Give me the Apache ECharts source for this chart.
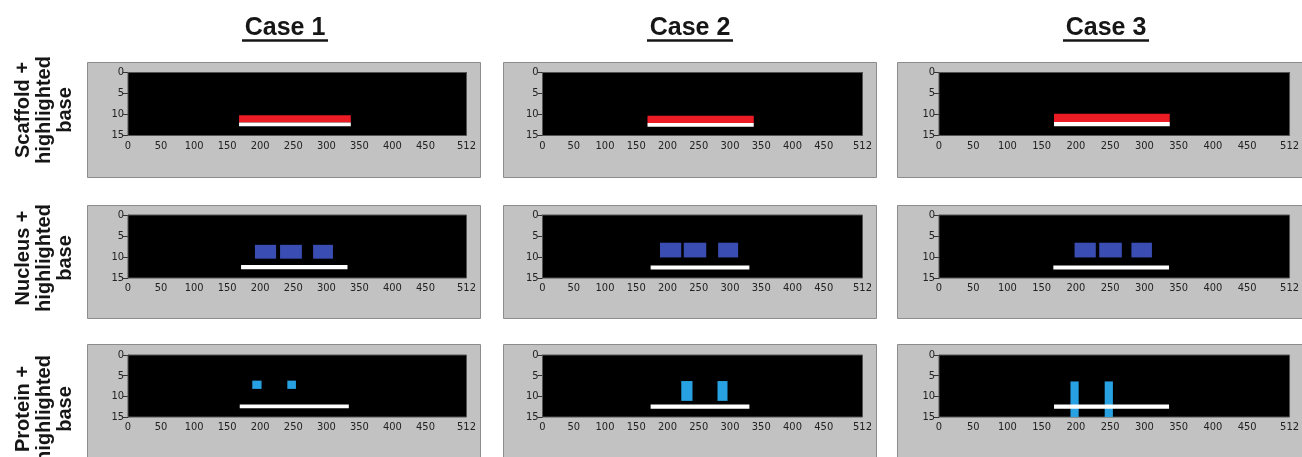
<!DOCTYPE html>
<html>
<head>
<meta charset="utf-8">
<script src="https://cdn.jsdelivr.net/npm/echarts@6/dist/echarts.min.js"></script>
<style>
html,body{margin:0;padding:0;background:#fff;}
#chart{width:1302px;height:457px;}
</style>
</head>
<body>
<div id="chart"></div>
<script>
// ---- data (axis units) ----
const caseNames = ['Case 1', 'Case 2', 'Case 3'];
const rowNames = ['Scaffold +\nhighlighted\nbase', 'Nucleus +\nhighlighted\nbase', 'Protein +\nhighlighted\nbase'];
const xTicks = [0, 50, 100, 150, 200, 250, 300, 350, 400, 450, 512];
const yMax = 15;
const yStep = 5;
const xMax = 512;

// rectangles: [xStart, xEnd, yTop, yBottom], one entry per case
const scaffoldRed = [[168, 337, 10.2, 11.9], [168, 338, 10.3, 12.0], [168, 337, 9.8, 11.8]];
const scaffoldBase = [[168, 337, 11.9, 12.8], [168, 338, 12.0, 12.9], [168, 337, 11.8, 12.8]];

const nucleusCase1 = [[192, 224, 7.1, 10.4], [230, 263, 7.1, 10.4], [280, 310, 7.1, 10.4]];
const nucleusCase2 = [[188, 222, 6.6, 10.1], [226, 262, 6.6, 10.1], [281, 313, 6.6, 10.1]];
const nucleusCase3 = [[198, 229, 6.6, 10.1], [234, 267, 6.6, 10.1], [281, 311, 6.6, 10.1]];
const nucleusBase = [[171, 332, 11.9, 12.9], [173, 331, 12.0, 13.0], [167, 336, 12.0, 13.0]];

const proteinCase1 = [[188, 202, 6.2, 8.2], [241, 254, 6.2, 8.2]];
const proteinCase2 = [[222, 240, 6.3, 11.1], [280, 296, 6.3, 11.1]];
const proteinCase3 = [[192, 204, 6.4, 15], [242, 254, 6.4, 15]];
const proteinBase = [[169, 334, 12.0, 12.9], [173, 331, 12.0, 13.0], [168, 336, 12.0, 13.0]];

// ---- layout / style ----
const colLeft = [128, 542.5, 939];
const colWidth = [338.5, 320, 358.5];
const rowTop = [72.5, 215, 355];
const rowHeight = [63, 63, 62];
const boxX = [87, 503, 897];
const boxW = [393, 373, 420];
const boxY = [62, 205, 344];
const boxH = [115, 113, 115];
const titleX = [285, 690, 1106];
const rowLabelY = [110, 258, 409];

const RED = '#ec1c24', WHITE = '#ffffff', BLUE = '#3a4db3', CYAN = '#27a1e1';
const tickFont = "'DejaVu Sans Condensed','Liberation Sans Narrow','Liberation Sans',sans-serif";

const rowSets = [
  [ {data: c => [scaffoldRed[c]], color: RED}, {data: c => [scaffoldBase[c]], color: WHITE} ],
  [ {data: c => [nucleusCase1, nucleusCase2, nucleusCase3][c], color: BLUE}, {data: c => [nucleusBase[c]], color: WHITE} ],
  [ {data: c => [proteinCase1, proteinCase2, proteinCase3][c], color: CYAN}, {data: c => [proteinBase[c]], color: WHITE} ]
];

function rectRenderer(color) {
  return function (params, api) {
    const p0 = api.coord([api.value(0), api.value(2)]);
    const p1 = api.coord([api.value(1), api.value(3)]);
    return {
      type: 'rect',
      shape: { x: p0[0], y: Math.min(p0[1], p1[1]), width: p1[0] - p0[0], height: Math.abs(p1[1] - p0[1]) },
      style: { fill: color }
    };
  };
}

const grids = [], xAxes = [], yAxes = [], series = [], graphics = [];
for (let r = 0; r < 3; r++) {
  for (let c = 0; c < 3; c++) {
    const i = r * 3 + c;
    graphics.push({
      type: 'rect', z: -5,
      shape: { x: boxX[c] + 0.5, y: boxY[r] + 0.5, width: boxW[c], height: boxH[r] },
      style: { fill: '#c2c2c2', stroke: '#8c8c8c', lineWidth: 1 }
    });
    grids.push({
      left: colLeft[c], top: rowTop[r], width: colWidth[c], height: rowHeight[r],
      show: true, backgroundColor: '#000', borderColor: '#555', borderWidth: 1, z: 2
    });
    xAxes.push({
      gridIndex: i, type: 'value', min: 0, max: xMax,
      axisLine: { show: true, lineStyle: { color: '#444', width: 1 } },
      axisTick: { show: true, customValues: xTicks, length: 4, lineStyle: { color: '#333' } },
      axisLabel: { customValues: xTicks, fontSize: 11, color: '#222', margin: 5, fontFamily: tickFont },
      splitLine: { show: false }
    });
    yAxes.push({
      gridIndex: i, type: 'value', min: 0, max: yMax, interval: yStep, inverse: true,
      axisLine: { show: true, lineStyle: { color: '#444', width: 1 } },
      axisTick: { show: true, length: 5, lineStyle: { color: '#333' } },
      axisLabel: { fontSize: 11, color: '#222', margin: 4, fontFamily: tickFont },
      splitLine: { show: false }
    });
    rowSets[r].forEach(set => {
      series.push({
        type: 'custom', xAxisIndex: i, yAxisIndex: i,
        renderItem: rectRenderer(set.color),
        encode: { x: [0, 1], y: [2, 3] },
        data: set.data(c), silent: true, z: 3
      });
    });
  }
}

caseNames.forEach((name, c) => {
  graphics.push({
    type: 'text', z: 10, x: titleX[c], y: 28,
    style: { text: name, fontSize: 25, fontWeight: 'bold', fontFamily: "'Liberation Sans',Arial,sans-serif",
             fill: '#161616', align: 'center', verticalAlign: 'middle' }
  });
  graphics.push({
    type: 'line', z: 10,
    shape: { x1: titleX[c] - 43, y1: 40.5, x2: titleX[c] + 43, y2: 40.5 },
    style: { stroke: '#161616', lineWidth: 2.5 }
  });
});
rowNames.forEach((name, r) => {
  graphics.push({
    type: 'text', z: 10, x: 44, y: rowLabelY[r], rotation: Math.PI / 2,
    style: { text: name, fontSize: 20, fontWeight: 'bold', fontFamily: "'Liberation Sans',Arial,sans-serif",
             fill: '#161616', align: 'center', verticalAlign: 'middle', lineHeight: 21 }
  });
});

const chart = echarts.init(document.getElementById('chart'), null, { renderer: 'canvas' });
chart.setOption({
  backgroundColor: '#fff',
  animation: false,
  grid: grids,
  xAxis: xAxes,
  yAxis: yAxes,
  series: series,
  graphic: { elements: graphics }
});
</script>
</body>
</html>
